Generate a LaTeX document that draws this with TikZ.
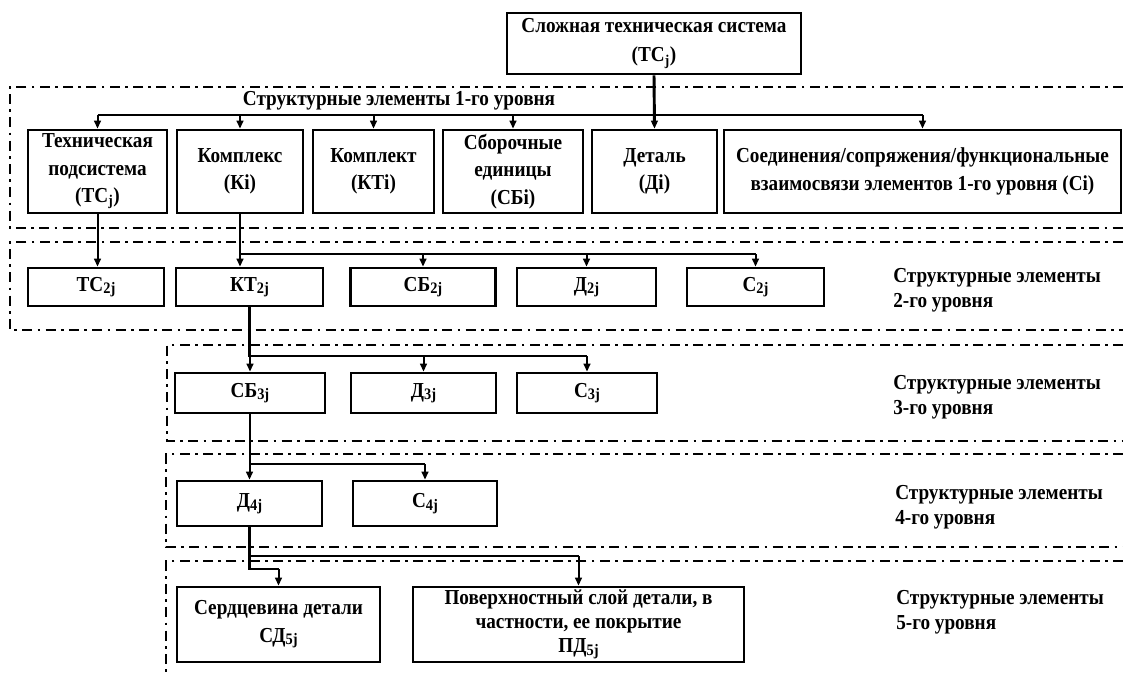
\documentclass[tikz,border=0pt]{standalone}
\usepackage{fontspec}
\setmainfont{Liberation Serif}[FakeStretch=0.9]
\usetikzlibrary{arrows.meta}

\newcommand{\lowsub}[1]{\raisebox{-0.25ex}{\fontsize{12}{12}\selectfont #1}}

\begin{document}
\begin{tikzpicture}[x=0.75pt,y=-0.75pt,
  box/.style={draw, line width=2pt, align=center, inner sep=1pt, font=\bfseries\fontsize{16}{20.5}\selectfont},
  lab/.style={align=left, anchor=west, inner sep=0pt, font=\bfseries\fontsize{16}{19}\selectfont},
  link/.style={line width=1.5pt, -{Triangle[length=6pt,width=5pt]}},
  bus/.style={line width=1.8pt},
  frame/.style={line width=2pt, dash pattern=on 7.5pt off 4pt on 2pt off 4pt},
  wh/.style 2 args={minimum width=#1*0.75pt, minimum height=#2*0.75pt}]

\useasboundingbox (0,0) rectangle (1123,675);

% dash-dot frames of the levels
\draw[frame] (1123,87) to (10,87) to (10,228) to (1123,228);
\draw[frame] (1123,242) to (10,242) to (10,330) to (1123,330);
\draw[frame] (1123,345) to (167,345) to (167,441) to (1123,441);
\draw[frame] (1123,454) to (166,454) to (166,547) to (1123,547);
\draw[frame] (1123,561) to (166,561) to (166,675);

\node [box, wh={294}{61}, font=\bfseries\fontsize{16}{22}\selectfont] (sys) at (654,43.5) {Сложная техническая система\\(ТС\textsubscript{j})};

% level 1
\node [box, wh={139}{83}] (tps) at (97.5,171.5) {Техническая\\подсистема\\(ТС\textsubscript{j})};
\node [box, wh={126}{83}] (kompleks) at (240,171.5) {Комплекс\\(Кi)};
\node [box, wh={121}{83}] (komplekt) at (373.5,171.5) {Комплект\\(КТi)};
\node [box, wh={140}{83}] (sb) at (513,171.5) {Сборочные\\единицы\\(СБi)};
\node [box, wh={125}{83}] (det) at (654.5,171.5) {Деталь\\(Дi)};
\node [box, wh={397}{83}] (soed) at (922.5,171.5) {Соединения/сопряжения/функциональные\\взаимосвязи элементов 1-го уровня (Сi)};
\node [lab, anchor=center] (lab1) at (399,101) {Структурные элементы 1-го уровня};

% level 2
\node [box, wh={136}{38}] (tc2) at (96,287) {ТС\lowsub{2j}};
\node [box, wh={147}{38}] (kt2) at (249.5,287) {КТ\lowsub{2j}};
\node [box, wh={145}{38}] (sb2) at (423,287) {СБ\lowsub{2j}};
\node [box, wh={139}{38}] (d2) at (586.5,287) {Д\lowsub{2j}};
\node [box, wh={137}{38}] (c2) at (755.5,287) {С\lowsub{2j}};
\node [lab] (lab2) at (893,290.5) {Структурные элементы\\2-го уровня};

% level 3
\node [box, wh={150}{40}] (sb3) at (250,393) {СБ\lowsub{3j}};
\node [box, wh={145}{40}] (d3) at (423.5,393) {Д\lowsub{3j}};
\node [box, wh={140}{40}] (c3) at (587,393) {С\lowsub{3j}};
\node [lab] (lab3) at (893,397) {Структурные элементы\\3-го уровня};

% level 4
\node [box, wh={145}{45}] (d4) at (249.5,503.5) {Д\lowsub{4j}};
\node [box, wh={144}{45}] (c4) at (425,503.5) {С\lowsub{4j}};
\node [lab] (lab4) at (895,507.5) {Структурные элементы\\4-го уровня};

% level 5
\node [box, wh={203}{75}] (sd5) at (278.5,624.5) {Сердцевина детали\\СД\lowsub{5j}};
\node [box, wh={331}{75}, font=\bfseries\fontsize{16}{18}\selectfont] (pd5) at (578.5,624.5) {Поверхностный слой детали, в\\частности, ее покрытие\\ПД\lowsub{5j}};
\node [lab] (lab5) at (896,612.5) {Структурные элементы\\5-го уровня};

% connectors
\coordinate (bus1) at (0,115);
\coordinate (bus2) at (0,254);
\coordinate (bus3) at (0,356);
\coordinate (bus4) at (0,464);
\coordinate (bus5) at (0,556);
\coordinate (step5) at (0,569);

\draw[link, line width=2.2pt] (sys.south) to (det.north);
\draw[bus] (tps.north |- bus1) to (soed.north |- bus1);
\foreach \n in {tps,kompleks,komplekt,sb,soed}
  \draw[link] (\n.north |- bus1) to (\n.north);

\draw[link] (tps.south) to (tps.south |- tc2.north);
\draw[bus, line width=2.2pt] (kompleks.south) to (kompleks.south |- bus2) to (c2.north |- bus2);
\draw[link] (kompleks.south |- bus2) to (kompleks.south |- kt2.north);
\foreach \n in {sb2,d2,c2}
  \draw[link] (\n.north |- bus2) to (\n.north);

\draw[bus] (kt2.south) to (kt2.south |- bus3) to (c3.north |- bus3);
\foreach \n in {sb3,d3,c3}
  \draw[link] (\n.north |- bus3) to (\n.north);

\draw[bus] (sb3.south) to (sb3.south |- bus4) to (c4.north |- bus4);
\foreach \n in {d4,c4}
  \draw[link] (\n.north |- bus4) to (\n.north);

\draw[bus] (d4.south) to (d4.south |- bus5) to (pd5.north |- bus5);
\draw[link] (pd5.north |- bus5) to (pd5.north);
\draw[bus] (d4.south |- bus5) to (d4.south |- step5) to (sd5.north |- step5);
\draw[link] (sd5.north |- step5) to (sd5.north);
\end{tikzpicture}
\end{document}
